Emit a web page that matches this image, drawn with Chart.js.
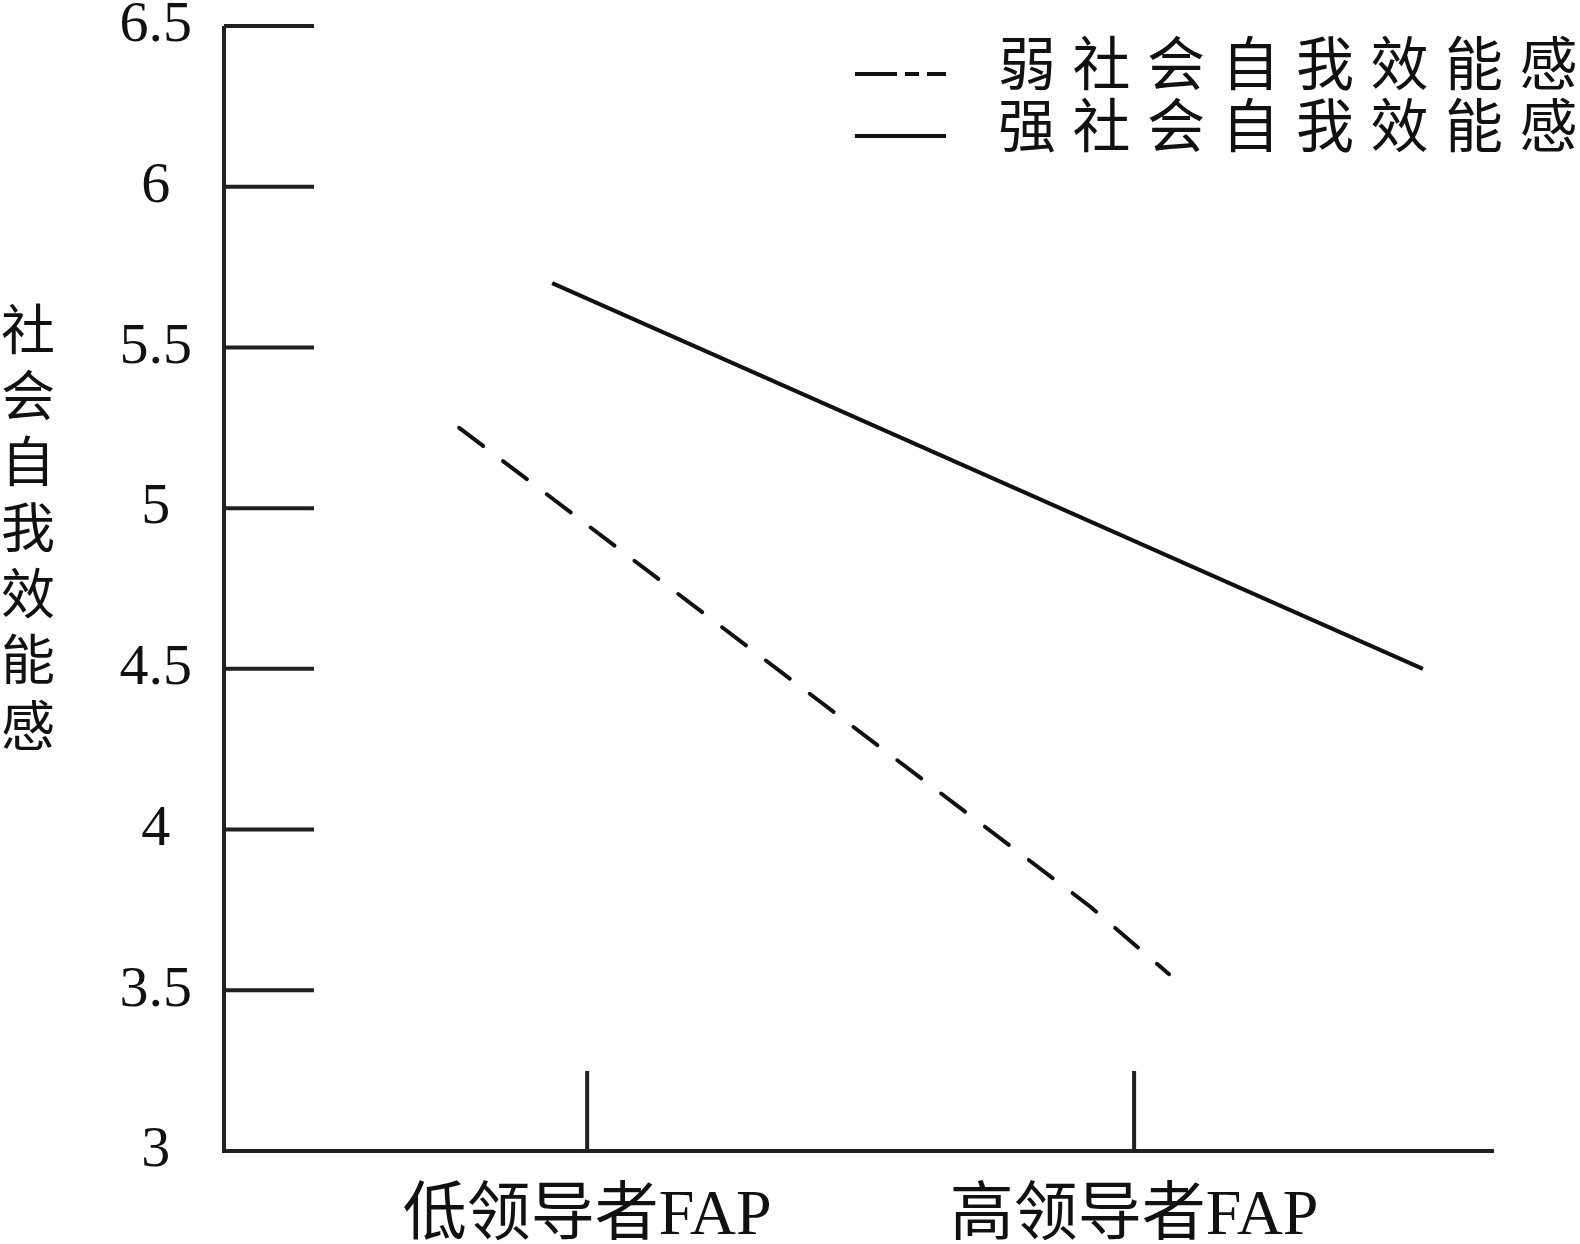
<!DOCTYPE html>
<html>
<head>
<meta charset="utf-8">
<script src="https://cdn.jsdelivr.net/npm/chart.js@4/dist/chart.umd.min.js"></script>
<style>
  html, body { margin: 0; padding: 0; background: #fff; }
  canvas { display: block; }
</style>
</head>
<body>
<canvas id="fapChart" width="1580" height="1244"></canvas>
<script>
// categories sit at x = 1 and x = 2 on a linear axis
var categories = ['低领导者FAP', '高领导者FAP'];
var categoryPos = [1, 2];
var seriesNames = ['弱社会自我效能感', '强社会自我效能感'];
var yTitle = '社会自我效能感';
var yTicks = [3, 3.5, 4, 4.5, 5, 5.5, 6, 6.5];

// values
var weakX = [0.766, 1.92, 2.064];
var weakY = [5.25, 3.76, 3.55];
var strongX = [0.936, 2.528];
var strongY = [5.70, 4.50];

var ink = '#231f20';
var cjk = '"Liberation Serif", "Noto Sans CJK SC"';

function toPoints(xs, ys) {
  return xs.map(function (v, i) { return { x: v, y: ys[i] }; });
}

// axes, ticks, vertical title and legend drawn by hand
var framePlugin = {
  id: 'framePlugin',
  afterDraw: function (chart) {
    var ctx = chart.ctx;
    var a = chart.chartArea;
    var x = chart.scales.x;
    var y = chart.scales.y;
    ctx.save();
    ctx.strokeStyle = ink;
    ctx.lineWidth = 4;
    ctx.lineCap = 'butt';
    ctx.beginPath();
    ctx.moveTo(a.left, a.top);
    ctx.lineTo(a.left, a.bottom);
    ctx.lineTo(a.right, a.bottom);
    yTicks.forEach(function (v, i) {
      if (i === 0) return;
      var py = y.getPixelForValue(v);
      ctx.moveTo(a.left, py);
      ctx.lineTo(a.left + 90, py);
    });
    categoryPos.forEach(function (v) {
      var px = x.getPixelForValue(v);
      ctx.moveTo(px, a.bottom);
      ctx.lineTo(px, a.bottom - 80);
    });
    ctx.stroke();

    // vertical y title, one character under another
    ctx.fillStyle = '#111';
    ctx.font = '54px ' + cjk;
    ctx.textAlign = 'center';
    ctx.textBaseline = 'middle';
    Array.from(yTitle).forEach(function (ch, i) {
      ctx.fillText(ch, 28, 336 + i * 66);
    });

    // legend
    var rows = [74, 136];
    ctx.font = '58px ' + cjk;
    ctx.textAlign = 'left';
    chart.data.datasets.forEach(function (ds, i) {
      ctx.beginPath();
      ctx.lineWidth = 4;
      ctx.strokeStyle = ds.borderColor;
      ctx.setLineDash(i === 0 ? [42, 8, 14, 8] : []);
      ctx.moveTo(855, rows[i]);
      ctx.lineTo(946, rows[i]);
      ctx.stroke();
      ctx.setLineDash([]);
      Array.from(ds.label).forEach(function (ch, j) {
        ctx.fillText(ch, 998 + j * 74.5, rows[i] - 4);
      });
    });
    ctx.restore();
  }
};

var chart = new Chart(document.getElementById('fapChart').getContext('2d'), {
  type: 'line',
  data: {
    datasets: [{
      label: seriesNames[0],
      data: toPoints(weakX, weakY),
      borderColor: '#111',
      borderWidth: 4,
      borderDash: [30, 25],
      borderCapStyle: 'round',
      pointRadius: 0,
      tension: 0,
      fill: false
    }, {
      label: seriesNames[1],
      data: toPoints(strongX, strongY),
      borderColor: '#111',
      borderWidth: 4,
      pointRadius: 0,
      tension: 0,
      fill: false
    }]
  },
  options: {
    responsive: false,
    animation: false,
    layout: { padding: { top: 26, right: 86, left: 0, bottom: 0 } },
    plugins: {
      legend: { display: false },
      tooltip: { enabled: false }
    },
    scales: {
      x: {
        type: 'linear',
        min: 0.336,
        max: 2.658,
        grid: { display: false },
        border: { display: false },
        afterBuildTicks: function (scale) {
          scale.ticks = categoryPos.map(function (v) { return { value: v }; });
        },
        afterFit: function (scale) {
          scale.height = 93;
          scale.paddingLeft = 0;
          scale.paddingRight = 0;
        },
        ticks: {
          color: '#111',
          padding: 20,
          maxRotation: 0,
          autoSkip: false,
          font: { family: cjk, size: 64 },
          callback: function (v) { return categories[categoryPos.indexOf(v)]; }
        }
      },
      y: {
        min: 3,
        max: 6.5,
        grid: { display: false },
        border: { display: false },
        afterBuildTicks: function (scale) {
          scale.ticks = yTicks.map(function (v) { return { value: v }; });
        },
        afterFit: function (scale) {
          scale.width = 224;
          scale.paddingTop = 0;
          scale.paddingBottom = 0;
        },
        ticks: {
          color: '#111',
          padding: 24,
          crossAlign: 'center',
          font: { family: 'Liberation Serif', size: 58, lineHeight: 0.8 },
          callback: function (v) { return String(v); }
        }
      }
    }
  },
  plugins: [framePlugin]
});
</script>
</body>
</html>
